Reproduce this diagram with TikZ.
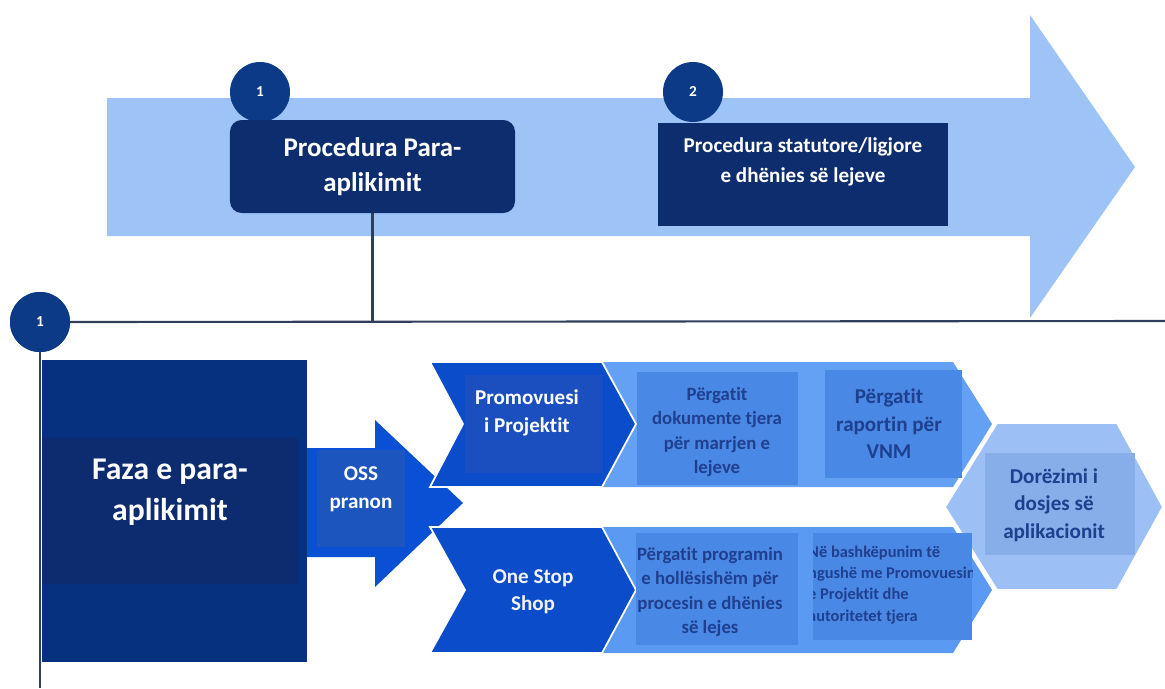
\documentclass[tikz,border=0pt]{standalone}
\usepackage{fontspec}
\setmainfont{Carlito}[Ligatures=NoCommon]

\definecolor{navy}{HTML}{0E2D6E}
\definecolor{circblue}{HTML}{0C3A86}
\definecolor{arrowlight}{HTML}{9EC3F7}
\definecolor{linegray}{HTML}{2F3E5A}
\definecolor{fazaout}{HTML}{05317E}
\definecolor{fazain}{HTML}{0D2C70}
\definecolor{ossblue}{HTML}{0A50D4}
\definecolor{ossin}{HTML}{1D55BF}
\definecolor{chevdark}{HTML}{0B4CCA}
\definecolor{chevin}{HTML}{1B4FBF}
\definecolor{chevlight}{HTML}{64A0F4}
\definecolor{chevlighttwo}{HTML}{5B9AF2}
\definecolor{stepfill}{HTML}{4A88E5}
\definecolor{steptext}{HTML}{1F3F8F}
\definecolor{hexfill}{HTML}{9CC0F6}
\definecolor{hexin}{HTML}{88AEE9}

\begin{document}
\begin{tikzpicture}
  [%%%%%%%%%%%%%%%%%%%%%%%%%%%%%%
  x=0.03cm, y=-0.03cm,
  box/.style={rectangle, inner sep=0pt},
  num/.style={circle, fill=circblue, minimum size=1.8cm, inner sep=0pt,
    text=white, font=\fontsize{13}{15}\selectfont\bfseries},
  lbl/.style={align=center, inner sep=0pt, text=white},
  steplbl/.style={align=center, inner sep=0pt, text=steptext},
  conn/.style={draw=linegray, line width=1.8pt},
  chev/.style={draw=white, line width=1.5pt, line join=miter},
  ]%%%%%%%%%%%%%%%%%%%%%%%%%%%%%%

  \useasboundingbox (0,0) rectangle (1165,688);

  % top timeline arrow
  \fill[arrowlight] (107,98) -- (1030,98) -- (1030,15) -- (1135,167)
    -- (1030,318) -- (1030,236) -- (107,236) -- cycle;

  \node[num] (c1) at (260,92) {1};
  \node[num] (c2) at (693,92) {2};

  \node[box, fill=navy, rounded corners=0.35cm, minimum width=8.55cm,
    minimum height=2.79cm, lbl, font=\fontsize{23}{30}\selectfont\bfseries]
    (pre) at (372.5,166.5) {Procedura Para-\\aplikimit};
  \node[box, fill=navy, minimum width=8.7cm, minimum height=3.09cm]
    (stat) at (803,174.5) {};
  \node[lbl, font=\fontsize{18}{25}\selectfont\bfseries] (stattxt) at (803,162)
    {Procedura statutore/ligjore\\e dhënies së lejeve};

  % lines
  \coordinate (hend) at (1165,321);
  \coordinate (vend) at (38,688);
  \node[num] (c3) at (40,322) {};
  \draw[conn] (pre.south) -- (pre.south |- hend);
  \draw[conn] (c3.east) -- (hend);
  \draw[conn] (c3.south) -- (c3.south |- vend);
  \node[num] at (40,322) {1};

  % phase box
  \node[box, fill=fazaout, minimum width=7.95cm, minimum height=9.06cm]
    (faza) at (174.5,511) {};
  \node[box, fill=fazain, minimum width=7.68cm, minimum height=4.38cm]
    (fazain) at (170,511) {};
  \node[lbl, font=\fontsize{27}{35}\selectfont\bfseries] (fazatxt) at (170,492)
    {Faza e para-\\aplikimit};

  % OSS arrow
  \fill[ossblue] (307,448) -- (375,448) -- (375,420) -- (463,503)
    -- (375,587) -- (375,557) -- (307,557) -- cycle;
  \node[box, fill=ossin, minimum width=2.64cm, minimum height=2.91cm]
    (oss) at (361,498.5) {};
  \node[lbl, font=\fontsize{18}{24}\selectfont\bfseries] (osstxt) at (361,489)
    {OSS\\pranon};

  % chevrons
  \fill[chevlight] (590,362) -- (953,362) -- (992,424) -- (953,487) -- (590,487) -- cycle;
  \filldraw[chev, fill=chevdark] (430,362) -- (602,362) -- (636,424) -- (602,487)
    -- (430,487) -- (463,424) -- cycle;
  \fill[chevlighttwo] (590,527) -- (953,527) -- (992,590) -- (953,653) -- (590,653) -- cycle;
  \filldraw[chev, fill=chevdark] (430,527) -- (602,527) -- (636,590) -- (602,653)
    -- (430,653) -- (465,590) -- cycle;

  % submission hexagon
  \filldraw[chev, fill=hexfill] (997,423) -- (1117,423) -- (1163,507) -- (1117,590)
    -- (997,590) -- (945,507) -- cycle;

  \node[box, fill=chevin, minimum width=4.14cm, minimum height=2.94cm]
    (prom) at (534,424) {};
  \node[lbl, font=\fontsize{18}{24.5}\selectfont\bfseries] (promtxt) at (527,413)
    {Promovuesi\\i Projektit};
  \node[lbl, text=white!90!gray, font=\fontsize{18}{23}\selectfont\bfseries]
    (osstop) at (533,592) {One Stop\\Shop};

  \node[box, fill=stepfill, minimum width=4.83cm, minimum height=3.39cm]
    (doc) at (717.5,428.5) {};
  \node[steplbl, font=\fontsize{16}{20.5}\selectfont\bfseries] (doctxt) at (717,432)
    {Përgatit\\dokumente tjera\\për marrjen e\\lejeve};

  \node[box, fill=stepfill, minimum width=4.11cm, minimum height=3.24cm]
    (vnm) at (893.5,424) {};
  \node[steplbl, font=\fontsize{18}{23.5}\selectfont\bfseries] (vnmtxt) at (889,424)
    {Përgatit\\raportin për\\VNM};

  \node[box, fill=stepfill, minimum width=4.86cm, minimum height=3.36cm]
    (prog) at (717,589) {};
  \node[steplbl, font=\fontsize{16}{20.7}\selectfont\bfseries] (progtxt) at (710,592)
    {Përgatit programin\\e hollësishëm për\\procesin e dhënies\\së lejes};

  \node[box, fill=stepfill, minimum width=4.77cm, minimum height=3.21cm]
    (coop) at (892.5,586.5) {};
  \begin{scope}
    \clip (813,533) rectangle (972,640);
    \node[steplbl, align=left, anchor=west, font=\fontsize{14}{18}\selectfont\bfseries]
      (cooptxt) at (808,585)
      {Në bashkëpunim të\\ngushë me Promovuesin\\e Projektit dhe\\autoritetet tjera};
  \end{scope}

  \node[box, fill=hexin, minimum width=4.5cm, minimum height=3.06cm]
    (dor) at (1060,504) {};
  \node[steplbl, font=\fontsize{18}{23.5}\selectfont\bfseries] (dortxt) at (1054,505)
    {Dorëzimi i\\dosjes së\\aplikacionit};
\end{tikzpicture}
\end{document}
